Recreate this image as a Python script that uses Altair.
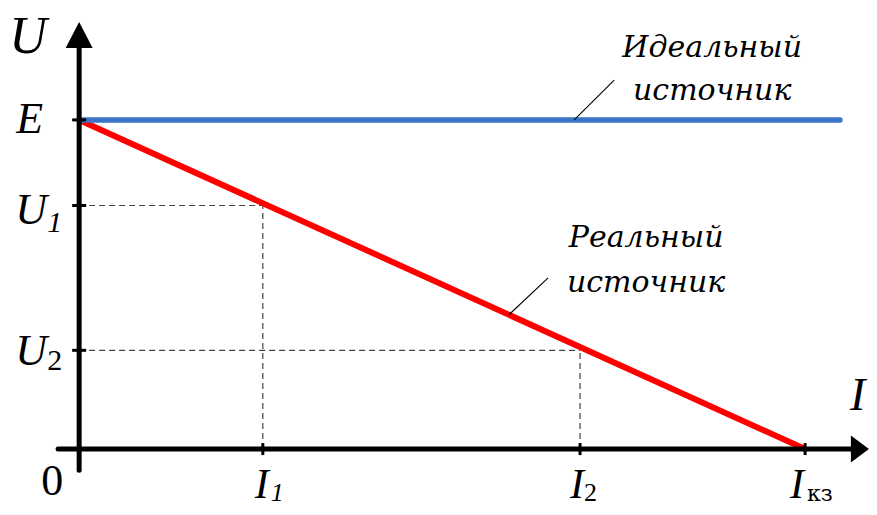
import altair as alt
import pandas as pd

# ---- values (arbitrary units) ----
E = 10.0                      # EMF level
I_KZ = 10.0                   # short-circuit current
I_points = [2.53, 6.9]        # I1, I2
U_points = [7.4, 3.0]         # U1, U2
ideal_I = [0.0, 10.48]        # ideal source line
ideal_U = [10.0, 10.0]
real_I = [0.0, 10.0]          # real source line
real_U = [10.0, 0.0]
y_tick_levels = [10.0, 7.4, 3.0]     # E, U1, U2
x_tick_levels = [2.53, 6.9, 10.0]    # I1, I2, Iкз
# leader lines (lower end on the curve, upper end near the caption)
leader_ideal = ([6.82, 7.37], [10.0, 11.21])
leader_real = ([5.92, 6.46], [4.08, 5.20])
# axis extents
x_axis_span = [-0.29, 10.69]
y_axis_span = [-0.64, 12.43]
x_arrow = (10.755, 0.0)
y_arrow = (0.0, 12.58)

X_DOMAIN = [-0.98, 10.88]
Y_DOMAIN = [-1.76, 13.40]
FONT = "Liberation Serif"
CYR_FONT = "DejaVu Serif"


def X(f="i"):
    return alt.X(f"{f}:Q", scale=alt.Scale(domain=X_DOMAIN, nice=False, zero=False), axis=None)


def Y(f="u"):
    return alt.Y(f"{f}:Q", scale=alt.Scale(domain=Y_DOMAIN, nice=False, zero=False), axis=None)


def seg(i1, u1, i2, u2, **kw):
    d = pd.DataFrame({"i": [i1], "u": [u1], "i2": [i2], "u2": [u2]})
    return alt.Chart(d).mark_rule(**kw).encode(
        x=X("i"), y=Y("u"), x2="i2:Q", y2="u2:Q")


def txt(i, u, s, dx, dy, size, italic=True, align="left", font=FONT):
    d = pd.DataFrame({"i": [i], "u": [u], "t": [s]})
    return alt.Chart(d).mark_text(
        dx=dx, dy=dy, fontSize=size, font=font,
        fontStyle="italic" if italic else "normal",
        align=align, baseline="alphabetic", color="black",
    ).encode(x=X("i"), y=Y("u"), text="t:N")


layers = []

# dashed guide lines
DASH = dict(color="#444444", strokeWidth=1.2, strokeDash=[6, 4])
for ip, up in zip(I_points, U_points):
    layers.append(seg(0.0, up, ip, up, **DASH))
    layers.append(seg(ip, 0.0, ip, up, **DASH))

# real source (red) and ideal source (blue)
real_df = pd.DataFrame({"i": real_I, "u": real_U})
layers.append(alt.Chart(real_df).mark_line(color="#FF0000", strokeWidth=6, strokeCap="butt")
              .encode(x=X("i"), y=Y("u")))
ideal_df = pd.DataFrame({"i": ideal_I, "u": ideal_U})
layers.append(alt.Chart(ideal_df).mark_line(color="#3A75C8", strokeWidth=5.5, strokeCap="round")
              .encode(x=X("i"), y=Y("u")))

# leader lines
for li, lu in (leader_ideal, leader_real):
    layers.append(seg(li[0], lu[0], li[1], lu[1], color="black", strokeWidth=1.1))

# axes
layers.append(seg(x_axis_span[0], 0.0, x_axis_span[1], 0.0, color="black", strokeWidth=5, strokeCap="round"))
layers.append(seg(0.0, y_axis_span[0], 0.0, y_axis_span[1], color="black", strokeWidth=5, strokeCap="round"))

# arrow heads
ya = pd.DataFrame({"i": [y_arrow[0]], "u": [y_arrow[1]]})
layers.append(alt.Chart(ya).mark_point(shape="M0,-0.96L-1,0.96L1,0.96Z", size=729, filled=True,
                                       color="black", opacity=1).encode(x=X("i"), y=Y("u")))
xa = pd.DataFrame({"i": [x_arrow[0]], "u": [x_arrow[1]]})
layers.append(alt.Chart(xa).mark_point(shape="M0.67,0L-0.67,-1L-0.67,1Z", size=729, filled=True,
                                       color="black", opacity=1).encode(x=X("i"), y=Y("u")))

# ticks
yt = pd.DataFrame({"i": [0.0] * len(y_tick_levels), "u": y_tick_levels})
layers.append(alt.Chart(yt).mark_point(shape="M-1,0L1,0", size=196, filled=False, strokeWidth=3,
                                       color="black", opacity=1).encode(x=X("i"), y=Y("u")))
xt = pd.DataFrame({"i": x_tick_levels, "u": [0.0] * len(x_tick_levels)})
layers.append(alt.Chart(xt).mark_point(shape="M0,-1L0,1", size=144, filled=False, strokeWidth=3,
                                       color="black", opacity=1).encode(x=X("i"), y=Y("u")))

# axis labels
layers.append(txt(y_arrow[0], y_arrow[1], "U", -51, 18, 52, align="center"))
layers.append(txt(x_arrow[0], x_arrow[1], "I", -10, -39, 46))
layers.append(txt(0.0, 0.0, "0", -27, 46, 44, italic=False, align="center"))

# U-axis levels
layers.append(txt(0.0, E, "E", -36, 13, 44, align="right"))
layers.append(txt(0.0, U_points[0], "U", -64, 19, 44))
layers.append(txt(0.0, U_points[0], "1", -32, 27, 30))
layers.append(txt(0.0, U_points[1], "U", -64, 15, 44))
layers.append(txt(0.0, U_points[1], "2", -32, 20, 30, italic=False))

# I-axis levels
layers.append(txt(I_points[0], 0.0, "I", -8, 49, 42))
layers.append(txt(I_points[0], 0.0, "1", 8, 52, 26))
layers.append(txt(I_points[1], 0.0, "I", -10, 49, 42))
layers.append(txt(I_points[1], 0.0, "2", 4, 52, 26, italic=False))
layers.append(txt(I_KZ, 0.0, "I", -15, 49, 42))
layers.append(txt(I_KZ, 0.0, "кз", 2, 52, 22, italic=False, font=CYR_FONT))

# captions
layers.append(txt(leader_ideal[0][1], leader_ideal[1][1], "Идеальный", 98, -23, 30, align="center", font=CYR_FONT))
layers.append(txt(leader_ideal[0][1], leader_ideal[1][1], "источник", 98, 20, 30, align="center", font=CYR_FONT))
layers.append(txt(leader_real[0][1], leader_real[1][1], "Реальный", 98, -31, 30, align="center", font=CYR_FONT))
layers.append(txt(leader_real[0][1], leader_real[1][1], "источник", 98, 14, 30, align="center", font=CYR_FONT))

chart = alt.layer(*layers).properties(
    width=861, height=499, padding=0, autosize=alt.AutoSizeParams(type="none"),
    background="white",
).configure_view(stroke=None)

chart.save("out.html", embed_options={"renderer": "svg", "actions": False})
